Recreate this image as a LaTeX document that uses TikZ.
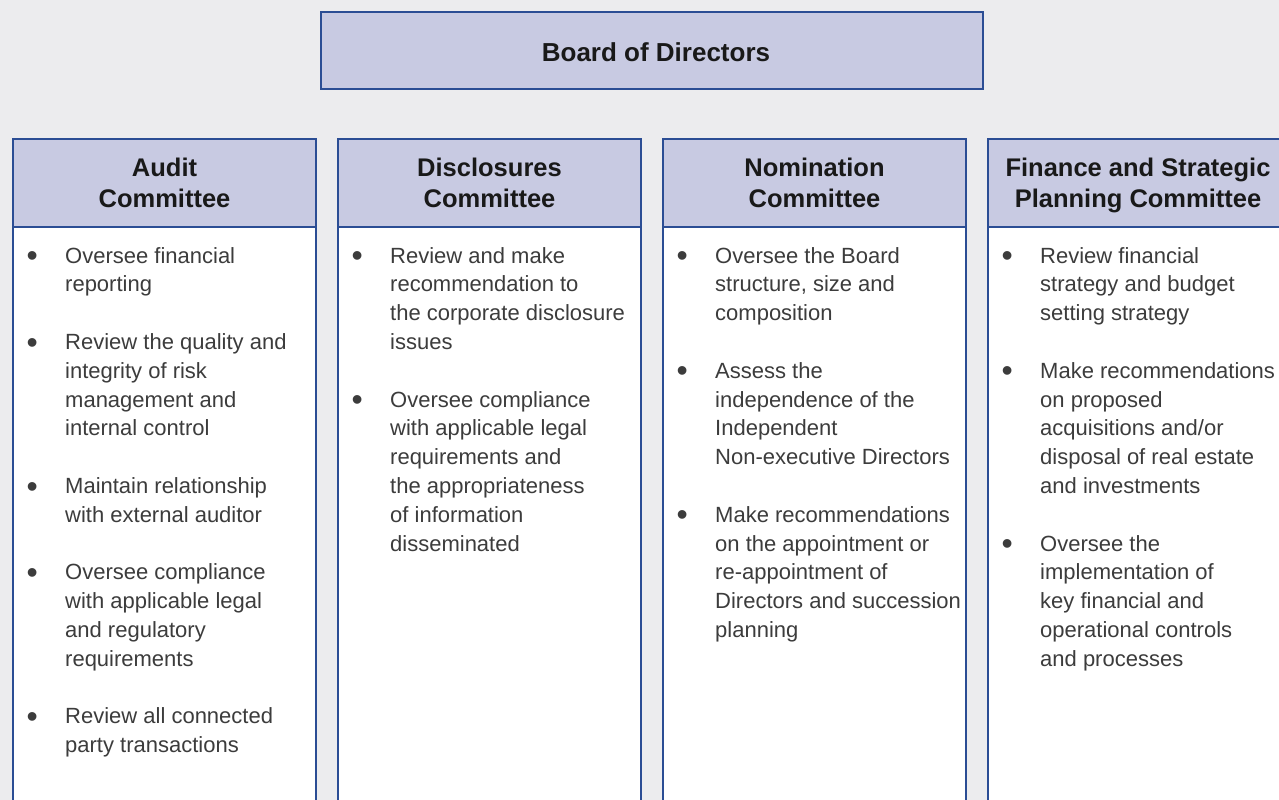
\documentclass[tikz,border=0pt]{standalone}
\usepackage{fontspec}
\setmainfont{Liberation Sans}
\definecolor{bgc}{HTML}{ECECEE}
\definecolor{hdrc}{HTML}{C8CAE2}
\definecolor{bdrc}{HTML}{2B4D94}
\definecolor{txtc}{HTML}{3C3C3C}
\newcommand{\lineL}[1]{\hbox{#1}}
\newcommand{\bulL}[1]{\hbox{\llap{\makebox[0pt]{\raisebox{-3.6pt}{\fontsize{32}{32}\selectfont\textbullet}}\hspace{33pt}}#1}}
\newcommand{\gapL}{\hbox{}}
\newcommand{\hdL}[1]{\hbox to 0pt{\hss #1\hss}}
\begin{document}
\begin{tikzpicture}[x=1pt,y=-1pt,
  boxline/.style={draw=bdrc, line width=1.4pt},
  hdrbox/.style={boxline, fill=hdrc},
  bodybox/.style={boxline, fill=white},
  hdtext/.style={anchor=base, inner sep=0pt, text=black!90, font=\bfseries\fontsize{25.5}{31}\selectfont},
  bodytext/.style={anchor=base west, inner sep=0pt, text=txtc, font=\fontsize{22}{28.8}\selectfont},
  boardtext/.style={inner sep=0pt, text=black!90, font=\bfseries\fontsize{26}{30}\selectfont}]
\useasboundingbox (0,0) rectangle (1279,800);
\clip (0,0) rectangle (1279,800);
\fill[bgc] (0,0) rectangle (1279,800);
% Board
\draw[hdrbox] (321,12) rectangle (983,89);
\node[boardtext] (board) at (656,52) {Board of Directors};
% column boxes
\foreach \xl/\xr in {13/316, 338/641, 663/966, 988/1291}{
  \draw[bodybox] (\xl,227) rectangle (\xr,815);
  \draw[hdrbox] (\xl,139) rectangle (\xr,227);
}
% headings
\node[hdtext] (h1) at (164.5,176) {\vtop{\hdL{Audit}\hdL{Committee}}};
\node[hdtext] (h2) at (489.5,176) {\vtop{\hdL{Disclosures}\hdL{Committee}}};
\node[hdtext] (h3) at (814.5,176) {\vtop{\hdL{Nomination}\hdL{Committee}}};
\node[hdtext] (h4) at (1138,176) {\vtop{\hdL{Finance and Strategic}\hdL{Planning Committee}}};
% bodies
\node[bodytext] (b1) at (65,263) {\vtop{%
  \bulL{Oversee financial}\lineL{reporting}\gapL
  \bulL{Review the quality and}\lineL{integrity of risk}\lineL{management and}\lineL{internal control}\gapL
  \bulL{Maintain relationship}\lineL{with external auditor}\gapL
  \bulL{Oversee compliance}\lineL{with applicable legal}\lineL{and regulatory}\lineL{requirements}\gapL
  \bulL{Review all connected}\lineL{party transactions}}};
\node[bodytext] (b2) at (390,263) {\vtop{%
  \bulL{Review and make}\lineL{recommendation to}\lineL{the corporate disclosure}\lineL{issues}\gapL
  \bulL{Oversee compliance}\lineL{with applicable legal}\lineL{requirements and}\lineL{the appropriateness}\lineL{of information}\lineL{disseminated}}};
\node[bodytext] (b3) at (715,263) {\vtop{%
  \bulL{Oversee the Board}\lineL{structure, size and}\lineL{composition}\gapL
  \bulL{Assess the}\lineL{independence of the}\lineL{Independent}\lineL{Non-executive Directors}\gapL
  \bulL{Make recommendations}\lineL{on the appointment or}\lineL{re-appointment of}\lineL{Directors and succession}\lineL{planning}}};
\node[bodytext] (b4) at (1040,263) {\vtop{%
  \bulL{Review financial}\lineL{strategy and budget}\lineL{setting strategy}\gapL
  \bulL{Make recommendations}\lineL{on proposed}\lineL{acquisitions and/or}\lineL{disposal of real estate}\lineL{and investments}\gapL
  \bulL{Oversee the}\lineL{implementation of}\lineL{key financial and}\lineL{operational controls}\lineL{and processes}}};
\end{tikzpicture}
\end{document}
